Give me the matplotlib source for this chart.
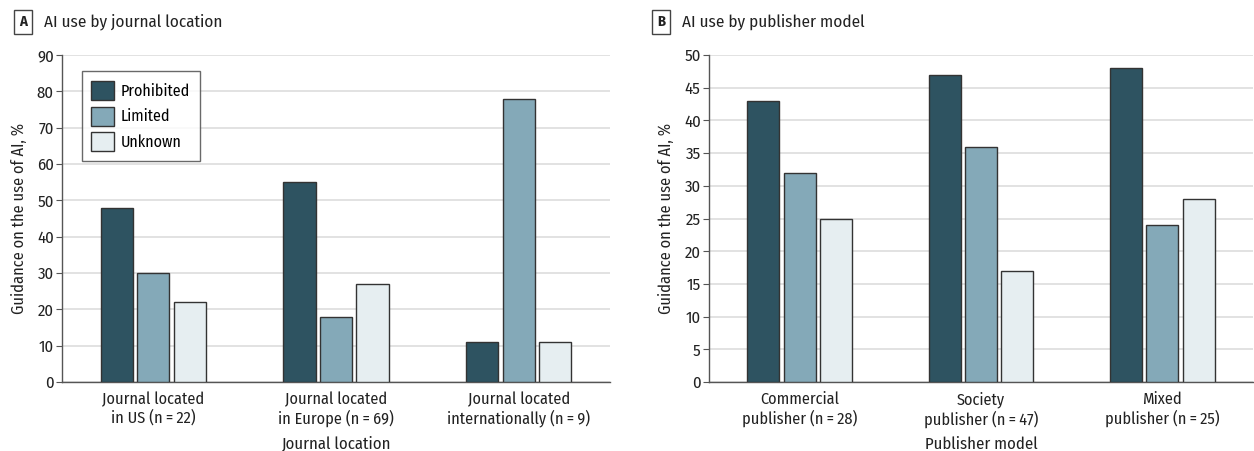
import matplotlib
matplotlib.use("Agg")
import matplotlib.pyplot as plt
from matplotlib.patches import Patch
from matplotlib import font_manager as fm
import numpy as np

avail = set(f.name for f in fm.fontManager.ttflist)
main_font = next((f for f in ["Fira Sans Condensed", "Roboto Condensed",
                              "Liberation Sans Narrow", "DejaVu Sans"] if f in avail),
                 "DejaVu Sans")
plt.rcParams['font.family'] = [main_font, 'DejaVu Sans']

series = ["Prohibited", "Limited", "Unknown"]
colors = ["#2e5361", "#84a9b8", "#e6eef1"]

loc_categories = ["Journal located\nin US (n\u2009=\u200922)",
                  "Journal located\nin Europe (n\u2009=\u200969)",
                  "Journal located\ninternationally (n\u2009=\u20099)"]
loc_prohibited = [48, 55, 11]
loc_limited = [30, 18, 78]
loc_unknown = [22, 27, 11]

pub_categories = ["Commercial\npublisher (n\u2009=\u200928)",
                  "Society\npublisher (n\u2009=\u200947)",
                  "Mixed\npublisher (n\u2009=\u200925)"]
pub_prohibited = [43, 47, 48]
pub_limited = [32, 36, 24]
pub_unknown = [25, 17, 28]

W, H = 1254, 451
fig = plt.figure(figsize=(W / 100, H / 100), dpi=100)

def px(l, b, r, t):
    return [l / W, 1 - b / H, (r - l) / W, (b - t) / H]

def panel(ax, cats, vals, ymax, ystep, xlabel):
    x = np.arange(len(cats))
    width = 0.177
    off = 0.2
    for i, (v, c) in enumerate(zip(vals, colors)):
        ax.bar(x + (i - 1) * off, v, width, color=c, edgecolor="#333333",
               linewidth=1.0, zorder=3)
    ax.set_xlim(-0.5, 2.5)
    ax.set_ylim(0, ymax)
    ax.set_yticks(np.arange(0, ymax + 0.1, ystep))
    ax.set_xticks(x)
    ax.set_xticklabels(cats, fontsize=11.7, color="#222222", linespacing=1.15)
    ax.tick_params(axis='x', length=0, pad=7)
    ax.tick_params(axis='y', length=4, width=0.8, color="#555555",
                   labelsize=12, labelcolor="#222222", pad=2)
    ax.yaxis.grid(True, color="#dddddd", linewidth=1.2, zorder=0)
    ax.set_axisbelow(True)
    for s in ["top", "right"]:
        ax.spines[s].set_visible(False)
    for s in ["left", "bottom"]:
        ax.spines[s].set_color("#555555")
        ax.spines[s].set_linewidth(1.0)
    ax.set_ylabel("Guidance on the use of AI, %", fontsize=11.8, color="#222222",
                  labelpad=7)
    ax.set_xlabel(xlabel, fontsize=12, color="#222222", labelpad=6)

axA = fig.add_axes(px(62, 382, 610, 55))
panel(axA, loc_categories, [loc_prohibited, loc_limited, loc_unknown],
      90, 10, "Journal location")

axB = fig.add_axes(px(709, 382, 1253, 55))
panel(axB, pub_categories, [pub_prohibited, pub_limited, pub_unknown],
      50, 5, "Publisher model")

handles = [Patch(facecolor=c, edgecolor="#333333", linewidth=1.0) for c in colors]
leg = axA.legend(handles, series, loc="upper left", bbox_to_anchor=(0.036, 0.95),
                 fontsize=11.5, frameon=True, fancybox=False, edgecolor="#444444",
                 handlelength=1.45, handleheight=1.45, handletextpad=0.4,
                 labelspacing=0.42, borderpad=0.6, borderaxespad=0)
leg.get_frame().set_linewidth(1.0)

def header(xbox, letter, title):
    fig.text(xbox / W, 1 - 22 / H, letter, fontsize=10.5, fontweight="bold",
             ha="center", va="center", color="#222222",
             bbox=dict(boxstyle="square,pad=0.35", facecolor="white",
                       edgecolor="#444444", linewidth=1.0))
    fig.text((xbox + 21) / W, 1 - 22 / H, title, fontsize=12.3, ha="left",
             va="center", color="#222222")

header(23, "A", "AI use by journal location")
header(661, "B", "AI use by publisher model")

fig.savefig("out.png", dpi=100)
